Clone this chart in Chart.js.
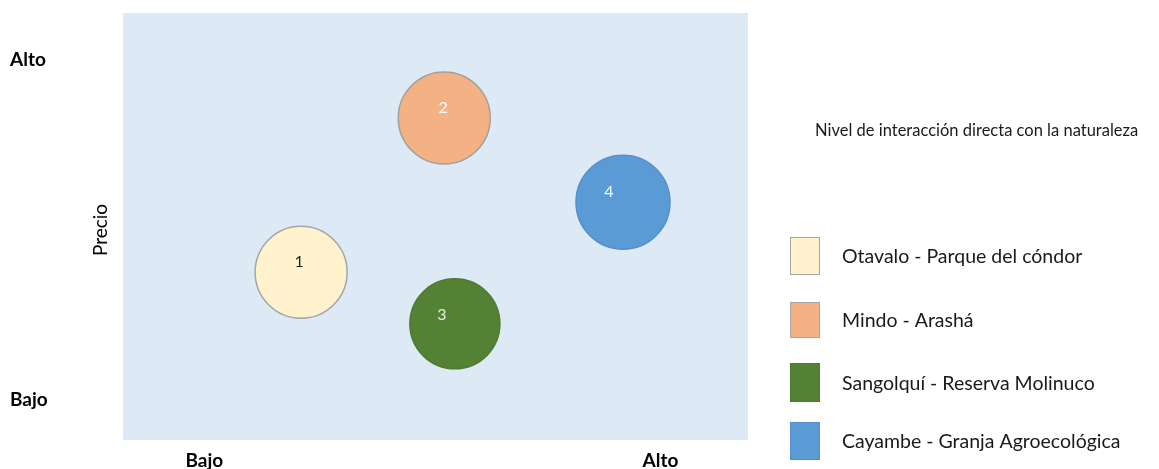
<!DOCTYPE html>
<html><head><meta charset="utf-8">
<script src="https://cdn.jsdelivr.net/npm/chart.js@4/dist/chart.umd.min.js"></script>
<style>html,body{margin:0;padding:0;background:#fff;} canvas{display:block;}</style>
</head><body>
<canvas id="c" width="1159" height="469"></canvas>
<script>
// ---- data ----
const categories = ['Otavalo - Parque del cóndor', 'Mindo - Arashá', 'Sangolquí - Reserva Molinuco', 'Cayambe - Granja Agroecológica'];
const bubbleNumbers = ['1', '2', '3', '4'];
const interactionValues = [2.85, 5.14, 5.31, 8.0];
const priceValues = [3.93, 7.54, 2.72, 5.57];
const bubbleRadius = [46, 46, 45, 47];
const xTickValues = [1.3, 8.6];
const xTickLabels = ['Bajo', 'Alto'];
const yTickValues = [0.94, 8.9];
const yTickLabels = ['Bajo', 'Alto'];
const legendTitle = 'Nivel de interacción directa con la naturaleza';
const yAxisTitle = 'Precio';

// ---- styles ----
const fillColors = ['#FFF2CC', '#F4B183', '#548235', '#5B9BD5'];
const borderColors = ['#A5A5A5', '#A0A0A0', '#4E7A31', '#5490CB'];
const numberColors = ['#262626', '#FFFFFF', '#E2F0D9', '#FFFFFF'];
const numberOffsets = [[-2, -10], [-1, -10], [-13, -9], [-14, -10]];
const FONT = 'Lato, "Open Sans", sans-serif';

const datasets = categories.map((name, i) => ({
  label: name,
  data: [{ x: interactionValues[i], y: priceValues[i], r: bubbleRadius[i] }],
  backgroundColor: fillColors[i],
  borderColor: borderColors[i],
  borderWidth: 1.5,
  hoverRadius: 0
}));

const plotBg = {
  id: 'plotBg',
  beforeDraw(chart) {
    const { ctx, chartArea: a } = chart;
    ctx.save();
    ctx.fillStyle = '#DDEAF6';
    ctx.fillRect(a.left, a.top, a.right - a.left, a.bottom - a.top);
    ctx.restore();
  }
};

const bubbleNums = {
  id: 'bubbleNums',
  afterDatasetsDraw(chart) {
    const ctx = chart.ctx;
    ctx.save();
    ctx.font = '16px ' + FONT;
    ctx.textAlign = 'center';
    ctx.textBaseline = 'middle';
    chart.data.datasets.forEach((ds, i) => {
      const el = chart.getDatasetMeta(i).data[0];
      ctx.fillStyle = numberColors[i];
      ctx.fillText(bubbleNumbers[i], el.x + numberOffsets[i][0], el.y + numberOffsets[i][1]);
    });
    ctx.restore();
  }
};

const sideTexts = {
  id: 'sideTexts',
  afterDraw(chart) {
    const ctx = chart.ctx;
    ctx.save();
    // y axis title
    ctx.translate(101, 230);
    ctx.rotate(-Math.PI / 2);
    ctx.font = '19px ' + FONT;
    ctx.fillStyle = '#000';
    ctx.textAlign = 'center';
    ctx.textBaseline = 'middle';
    ctx.fillText(yAxisTitle, 0, 0);
    ctx.restore();

    ctx.save();
    // legend title
    ctx.font = '16.5px ' + FONT;
    ctx.fillStyle = '#1a1a1a';
    ctx.textAlign = 'left';
    ctx.textBaseline = 'middle';
    ctx.fillText(legendTitle, 815, 131);
    // legend items
    const boxTops = [237, 302, 363, 422];
    const boxH = [38, 36, 39, 38];
    ctx.font = '19.5px ' + FONT;
    categories.forEach((name, i) => {
      ctx.fillStyle = fillColors[i];
      ctx.fillRect(790, boxTops[i], 30, boxH[i]);
      ctx.strokeStyle = i < 2 ? '#A6A6A6' : borderColors[i];
      ctx.lineWidth = 1;
      ctx.strokeRect(790.5, boxTops[i] + 0.5, 29, boxH[i] - 1);
      ctx.fillStyle = '#1a1a1a';
      ctx.fillText(name, 842, boxTops[i] + boxH[i] / 2 + 1);
    });
    ctx.restore();
  }
};

new Chart(document.getElementById('c'), {
  type: 'bubble',
  data: { datasets },
  options: {
    responsive: false,
    devicePixelRatio: 1,
    animation: false,
    layout: { autoPadding: false, padding: { left: 10, top: 13, right: 411, bottom: 0 } },
    plugins: { legend: { display: false }, tooltip: { enabled: false } },
    events: [],
    scales: {
      x: {
        type: 'linear', min: 0, max: 10,
        grid: { display: false, drawTicks: false },
        border: { display: false },
        afterBuildTicks(scale) { scale.ticks = xTickValues.map(v => ({ value: v })); },
        afterFit(scale) { scale.height = 29; },
        ticks: {
          autoSkip: false, maxRotation: 0, padding: 9,
          color: '#000',
          font: { family: FONT, size: 19, weight: 'bold' },
          callback: (v, i) => xTickLabels[i]
        }
      },
      y: {
        type: 'linear', min: 0, max: 10,
        grid: { display: false, drawTicks: false },
        border: { display: false },
        afterBuildTicks(scale) { scale.ticks = yTickValues.map(v => ({ value: v })); },
        afterFit(scale) { scale.width = 113; },
        ticks: {
          autoSkip: false, crossAlign: 'far', padding: 0,
          color: '#000',
          font: { family: FONT, size: 19, weight: 'bold' },
          callback: (v, i) => yTickLabels[i]
        }
      }
    }
  },
  plugins: [plotBg, bubbleNums, sideTexts]
});
</script>
</body></html>
